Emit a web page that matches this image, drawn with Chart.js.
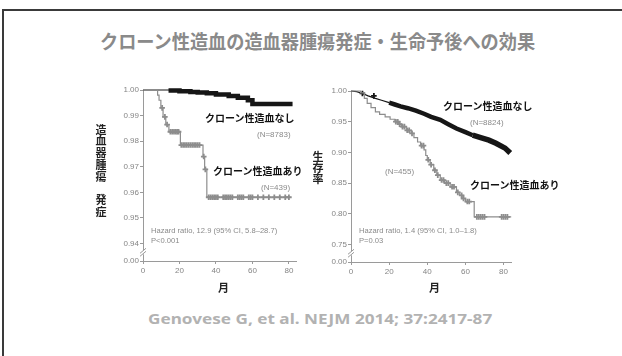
<!DOCTYPE html>
<html lang="ja">
<head>
<meta charset="utf-8">
<script src="https://cdn.jsdelivr.net/npm/chart.js@4/dist/chart.umd.min.js"></script>
<style>
html,body{margin:0;padding:0;background:#fff;}
body{width:622px;height:356px;position:relative;overflow:hidden;font-family:"Noto Sans CJK JP","Noto Sans",sans-serif;}
.frame{position:absolute;left:2px;top:9px;width:700px;height:400px;border-top:2px solid #3a3a3a;border-left:2px solid #3a3a3a;}
.t{position:absolute;white-space:nowrap;}
.title{left:100px;top:31px;font-size:19px;line-height:20px;font-weight:700;color:#8a8a8a;transform-origin:left center;}
.cite{left:148px;top:309px;font-family:"Noto Sans",sans-serif;font-size:15px;line-height:18px;font-weight:700;color:#b2b2b2;transform-origin:left center;}
.grp{font-size:10px;line-height:12px;font-weight:700;color:#111;}
.n{font-family:"Liberation Sans",sans-serif;font-size:8px;line-height:10px;color:#8a8a8a;}
.hr{font-family:"Liberation Sans",sans-serif;font-size:7.6px;line-height:10px;color:#8a8a8a;}
.ytitle{font-size:11px;line-height:11px;font-weight:700;color:#222;writing-mode:vertical-rl;}
.xtitle{font-size:11px;line-height:12px;font-weight:700;color:#222;}
.cv{position:absolute;}
</style>
</head>
<body>
<div class="frame"></div>
<div class="t title" id="title">クローン性造血の造血器腫瘍発症・生命予後への効果</div>

<canvas class="cv" id="leftChart" width="212" height="201" style="left:90px;top:80px;width:212px;height:201px;"></canvas>
<canvas class="cv" id="rightChart" width="217" height="201" style="left:300px;top:81px;width:217px;height:201px;"></canvas>

<!-- left panel text -->
<div class="t ytitle" style="left:95px;top:124px;letter-spacing:0.8px;">造血器腫瘍　発症</div>
<div class="t grp" style="left:205px;top:112px;">クローン性造血なし</div>
<div class="t n" style="left:257px;top:130px;">(N=8783)</div>
<div class="t grp" style="left:213px;top:165px;">クローン性造血あり</div>
<div class="t n" style="left:261px;top:183px;">(N=439)</div>
<div class="t hr" style="left:151px;top:226px;">Hazard ratio, 12.9 (95% CI, 5.8–28.7)</div>
<div class="t hr" style="left:151px;top:236px;">P&lt;0.001</div>
<div class="t xtitle" style="left:218px;top:281px;">月</div>

<!-- right panel text -->
<div class="t ytitle" style="left:312px;top:151px;">生存率</div>
<div class="t grp" style="left:443px;top:100px;">クローン性造血なし</div>
<div class="t n" style="left:470px;top:118px;">(N=8824)</div>
<div class="t n" style="left:385px;top:167px;">(N=455)</div>
<div class="t grp" style="left:470px;top:179px;">クローン性造血あり</div>
<div class="t hr" style="left:359px;top:226px;">Hazard ratio, 1.4 (95% CI, 1.0–1.8)</div>
<div class="t hr" style="left:359px;top:236px;">P=0.03</div>
<div class="t xtitle" style="left:429px;top:281px;">月</div>

<div class="t cite" id="cite">Genovese G, et al. NEJM 2014; 37:2417-87</div>

<script>
// ---- Hematologic cancer (left): Kaplan–Meier event-free curves ----
const xTicks = [0, 20, 40, 60, 80];

const leftNoMonths = [0, 14, 20, 26, 30, 35, 40, 47, 52, 57.5, 60, 82];
const leftNoSurv   = [1.0, 0.9998, 0.9995, 0.9992, 0.999, 0.9987, 0.9982, 0.9977, 0.997, 0.996, 0.9945, 0.9945];

const leftCHIPMonths = [0, 8, 8.8, 9.8, 11, 12.5, 14.2, 20.5, 32.9, 33.8, 35, 81];
const leftCHIPSurv   = [1.0, 0.998, 0.996, 0.993, 0.9895, 0.9865, 0.9837, 0.9785, 0.974, 0.969, 0.9581, 0.9581];
const leftCHIPCensor = [10.5, 12, 13.2, 15, 16, 17, 18, 18.8, 19.5, 21, 22, 23, 24, 25, 26, 27, 28, 29, 30, 31,
                        33.3, 34.2, 36, 37, 38, 39, 40, 41, 44, 45, 46, 47, 48, 49, 52, 53, 54, 55, 58, 59, 60,
                        63, 66, 69, 72, 75, 78, 80];
const leftYTicks = [0.94, 0.95, 0.96, 0.97, 0.98, 0.99, 1.00];

// ---- Overall survival (right) ----
const rightNoMonths = [0, 3, 6, 9, 12.8, 16, 20, 23, 26, 29.8, 34, 38.3, 42, 46.8, 51, 55.3, 60, 63.8, 68, 72.3, 76, 80.8, 83.5];
const rightNoSurv   = [1.0, 0.999, 0.996, 0.992, 0.988, 0.985, 0.981, 0.978, 0.975, 0.972, 0.968, 0.963, 0.958, 0.953, 0.946, 0.939, 0.933, 0.928, 0.924, 0.92, 0.915, 0.907, 0.899];
const rightNoCensor = [6, 12];

const rightCHIPMonths = [0, 5, 7, 8.5, 10.5, 12.8, 15, 17.9, 20.5, 23, 25, 26.4, 29, 31.5, 33, 34.9, 36.5, 38.3, 39.2,
                         40, 41.5, 43.4, 45, 46.8, 49, 52, 55.3, 57, 58.7, 60, 64.6, 84];
const rightCHIPSurv   = [1.0, 0.997, 0.988, 0.98, 0.973, 0.966, 0.962, 0.958, 0.954, 0.95, 0.946, 0.942, 0.936, 0.931, 0.924, 0.917, 0.911, 0.904, 0.895,
                         0.888, 0.88, 0.871, 0.863, 0.855, 0.85, 0.844, 0.835, 0.83, 0.825, 0.82, 0.795, 0.795];
const rightCHIPCensor = [23.5, 24.5, 25.5, 27, 28, 29.5, 30.5, 32, 37, 38, 40.5, 42, 44, 45.5, 47.5, 48.5, 50, 51, 53, 54,
                         56, 58, 59, 61, 62, 66, 67, 68, 69, 70, 79, 80, 81, 82];
const rightYTicks = [0.75, 0.80, 0.85, 0.90, 0.95, 1.00];

const BLACK = '#161616';
const GRAY = '#8d8d8d';
const AXIS = '#9a9a9a';
const TICK = '#858585';

function toPoints(months, surv) {
  return months.map((m, i) => ({ x: m, y: surv[i] }));
}
// value of a step curve at time t (last event at or before t)
function stepAt(months, surv, t) {
  let v = surv[0];
  for (let i = 0; i < months.length; i++) { if (months[i] <= t) v = surv[i]; }
  return v;
}
function censorPoints(times, months, surv) {
  return times.map(t => ({ x: t, y: stepAt(months, surv, t) }));
}

// "//" break mark on the y axis between the zero label and the first real tick
const axisBreak = {
  id: 'axisBreak',
  afterDraw(chart, args, opts) {
    const y = chart.scales.y, ctx = chart.ctx;
    const x0 = chart.chartArea.left;
    const yy = (y.getPixelForValue(y.min) + y.getPixelForValue(opts.first)) / 2;
    ctx.save();
    ctx.fillStyle = '#fff';
    ctx.fillRect(x0 - 2, yy - 2, 4, 4);
    ctx.strokeStyle = AXIS;
    ctx.lineWidth = 1;
    ctx.beginPath();
    ctx.moveTo(x0 - 3, yy + 1); ctx.lineTo(x0 + 3, yy - 4);
    ctx.moveTo(x0 - 3, yy + 4); ctx.lineTo(x0 + 3, yy - 1);
    ctx.stroke();
    ctx.restore();
  }
};

function makeChart(id, cfg) {
  const yMin = cfg.yMin;
  return new Chart(document.getElementById(id), {
    type: 'line',
    data: { datasets: cfg.datasets },
    options: {
      responsive: false,
      animation: false,
      events: [],
      layout: { padding: { top: 10, right: cfg.padRight, bottom: 0, left: 0 } },
      plugins: { legend: { display: false }, tooltip: { enabled: false }, axisBreak: { first: cfg.yTicks[0] } },
      scales: {
        x: {
          type: 'linear', min: 0, max: 84,
          afterBuildTicks: s => { s.ticks = xTicks.map(v => ({ value: v })); },
          afterFit: s => { s.height = 20; },
          grid: { drawOnChartArea: false, drawTicks: true, tickLength: 3, color: AXIS },
          border: { display: true, color: AXIS, width: 1 },
          ticks: { color: TICK, font: { family: 'Liberation Sans', size: 8 }, padding: 2, maxRotation: 0, autoSkip: false }
        },
        y: {
          type: 'linear', min: yMin, max: 1.0,
          afterBuildTicks: s => { s.ticks = [yMin].concat(cfg.yTicks).map(v => ({ value: v })); },
          afterFit: s => { s.width = cfg.yWidth; },
          grid: { drawOnChartArea: false, drawTicks: true, tickLength: 3, color: AXIS },
          border: { display: true, color: AXIS, width: 1 },
          ticks: {
            color: TICK, font: { family: 'Liberation Sans', size: 8 }, padding: 1, autoSkip: false,
            callback: v => (v === yMin ? '0.00' : Number(v).toFixed(2))
          }
        }
      }
    },
    plugins: [axisBreak]
  });
}

const lineBase = { pointRadius: 0, fill: false, clip: false, tension: 0 };
const censorBase = { showLine: false, pointStyle: 'cross', pointRadius: 2.8, pointBorderWidth: 1.8, clip: false };

makeChart('leftChart', {
  yMin: 0.9332, yTicks: leftYTicks, yWidth: 53, padRight: 1,
  datasets: [
    Object.assign({}, lineBase, {
      label: 'クローン性造血あり', data: toPoints(leftCHIPMonths, leftCHIPSurv),
      stepped: true, borderColor: GRAY, borderWidth: 1.2, order: 0
    }),
    Object.assign({}, censorBase, {
      label: 'censor あり', data: censorPoints(leftCHIPCensor, leftCHIPMonths, leftCHIPSurv),
      pointBorderColor: GRAY, pointBackgroundColor: GRAY, order: 0
    }),
    Object.assign({}, lineBase, {
      label: 'クローン性造血なし', data: toPoints(leftNoMonths, leftNoSurv),
      stepped: true, borderColor: BLACK, borderWidth: 1.2, order: 1,
      segment: { borderWidth: c => (c.p0.parsed.x >= 11 && c.p0.parsed.x < 80 ? 4.5 : 1.2) }
    })
  ]
});

makeChart('rightChart', {
  yMin: 0.7216, yTicks: rightYTicks, yWidth: 51, padRight: 0,
  datasets: [
    Object.assign({}, lineBase, {
      label: 'クローン性造血あり', data: toPoints(rightCHIPMonths, rightCHIPSurv),
      stepped: true, borderColor: GRAY, borderWidth: 1.2, order: 0
    }),
    Object.assign({}, censorBase, {
      label: 'censor あり', data: censorPoints(rightCHIPCensor, rightCHIPMonths, rightCHIPSurv),
      pointBorderColor: GRAY, pointBackgroundColor: GRAY, order: 0
    }),
    Object.assign({}, lineBase, {
      label: 'クローン性造血なし', data: toPoints(rightNoMonths, rightNoSurv),
      borderColor: BLACK, borderWidth: 1.2, order: 1,
      segment: { borderWidth: c => (c.p0.parsed.x >= 63 ? 5.5 : c.p0.parsed.x >= 20 ? 4.5 : 1.2) }
    }),
    Object.assign({}, censorBase, {
      label: 'censor なし', data: censorPoints(rightNoCensor, rightNoMonths, rightNoSurv),
      pointBorderColor: BLACK, pointBackgroundColor: BLACK, order: 1
    })
  ]
});

// stretch the heading and the reference line to their set widths
function fitWidth(id, w) {
  const el = document.getElementById(id);
  el.style.transform = 'scaleX(' + (w / el.offsetWidth) + ')';
}
fitWidth('title', 435);
fitWidth('cite', 344);
</script>
</body>
</html>
